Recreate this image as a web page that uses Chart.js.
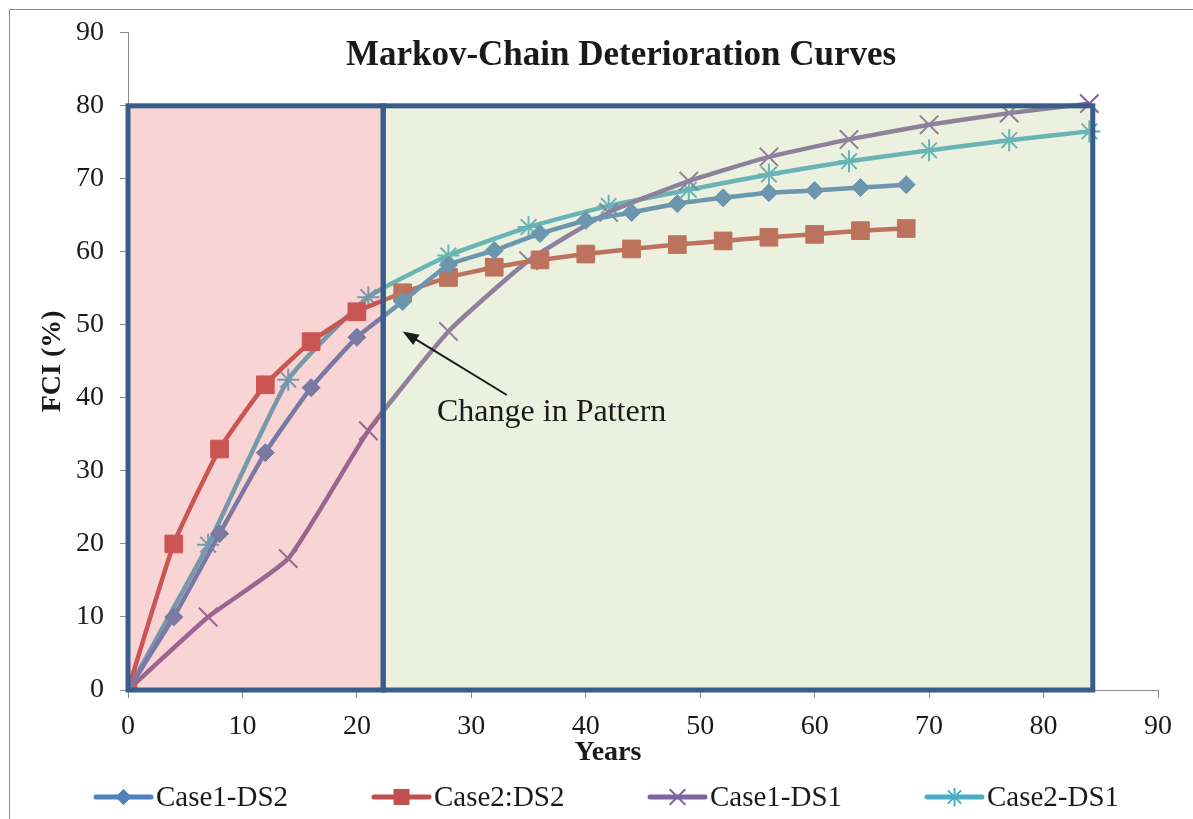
<!DOCTYPE html>
<html lang="en">
<head>
    <meta charset="UTF-8">
    <title>Markov-Chain Deterioration Curves</title>
    <script src="https://cdn.jsdelivr.net/npm/chart.js@4.4.0/dist/chart.umd.min.js"></script>
    <style>
        body { margin: 0; background: #ffffff; }
        #chart { display: block; }
    </style>
</head>
<body>
    <canvas id="chart" width="1193" height="819"></canvas>
    <script>
        // Datos
        const yearsDS2 = [0, 4, 8, 12, 16, 20, 24, 28, 32, 36, 40, 44, 48, 52, 56, 60, 64, 68];
        const yearsDS1 = [0, 7, 14, 21, 28, 35, 42, 49, 56, 63, 70, 77, 84];
        const case1DS2 = [0, 10, 21.4, 32.5, 41.4, 48.3, 53.2, 58.2, 60.2, 62.5, 64.3, 65.4, 66.6, 67.4, 68.1, 68.4, 68.8, 69.2];
        const case2DS2 = [0, 20, 33, 41.8, 47.7, 51.8, 54.4, 56.5, 57.9, 58.9, 59.7, 60.4, 61, 61.5, 62, 62.4, 62.9, 63.2];
        const case1DS1 = [0, 10, 18, 35.5, 49.1, 58.8, 65.4, 69.7, 73, 75.4, 77.4, 79, 80.3];
        const case2DS1 = [0, 19.9, 42.5, 53.8, 59.5, 63.4, 66.3, 68.5, 70.6, 72.4, 73.9, 75.3, 76.5];
        const seriesNames = ['Case1-DS2', 'Case2:DS2', 'Case1-DS1', 'Case2-DS1'];
        const xTicks = [0, 10, 20, 30, 40, 50, 60, 70, 80, 90];
        const yTicks = [0, 10, 20, 30, 40, 50, 60, 70, 80, 90];

        const SERIF = "'Liberation Serif', 'Times New Roman', serif";
        const colors = ['#4f81bd', '#c0504d', '#8064a2', '#4bacc6'];
        const styles = ['rectRot', 'rect', 'crossRot', 'star'];
        const radii = [9, 12.5, 13, 11];

        // zonas sombreadas (unidades de datos)
        const zonaRosa = { x0: 0, x1: 22.3, y0: 0, y1: 80 };
        const zonaVerde = { x0: 22.3, x1: 84.3, y0: 0, y1: 80 };
        // anotacion
        const flechaDesde = { x: 33.1, y: 40.4 };
        const flechaHasta = { x: 24.0, y: 49.1 };
        const notaPos = { x: 27.0, y: 36.9 };

        function toPoints(xs, ys) {
            return xs.map((x, i) => ({ x: x, y: ys[i] }));
        }

        function makeDataset(i, xs, ys) {
            return {
                label: seriesNames[i],
                data: toPoints(xs, ys),
                borderColor: colors[i],
                backgroundColor: colors[i],
                borderWidth: 4.5,
                tension: 0.15,
                pointStyle: styles[i],
                pointRadius: radii[i],
                pointBackgroundColor: colors[i],
                pointBorderColor: colors[i],
                pointBorderWidth: (i >= 2) ? 2 : 1
            };
        }

        // Zonas, flecha, titulo, leyenda
        const extras = {
            id: 'extras',
            beforeDraw(chart) {
                const c = chart.ctx;
                c.save();
                c.strokeStyle = '#8c8c8c';
                c.lineWidth = 1;
                c.strokeRect(9.5, 9.5, 1250, 900);
                c.restore();
            },
            afterDatasetsDraw(chart) {
                const c = chart.ctx;
                const xs = chart.scales.x, ys = chart.scales.y;
                const zona = (z, fill) => {
                    const l = xs.getPixelForValue(z.x0), r = xs.getPixelForValue(z.x1);
                    const t = ys.getPixelForValue(z.y1), b = ys.getPixelForValue(z.y0);
                    c.fillStyle = fill;
                    c.fillRect(l, t, r - l, b - t);
                    return [l, t, r - l, b - t];
                };
                c.save();
                const r1 = zona(zonaRosa, 'rgba(230, 100, 100, 0.28)');
                const r2 = zona(zonaVerde, 'rgba(184, 205, 137, 0.28)');
                c.strokeStyle = '#385d8a';
                c.lineWidth = 5;
                c.strokeRect(...r2);
                c.strokeRect(...r1);

                // flecha
                const x1 = xs.getPixelForValue(flechaDesde.x), y1 = ys.getPixelForValue(flechaDesde.y);
                const x2 = xs.getPixelForValue(flechaHasta.x), y2 = ys.getPixelForValue(flechaHasta.y);
                const ang = Math.atan2(y2 - y1, x2 - x1);
                c.strokeStyle = '#1a1a1a';
                c.fillStyle = '#1a1a1a';
                c.lineWidth = 2;
                c.beginPath();
                c.moveTo(x1, y1);
                c.lineTo(x2 - 12 * Math.cos(ang), y2 - 12 * Math.sin(ang));
                c.stroke();
                c.beginPath();
                c.moveTo(x2, y2);
                c.lineTo(x2 - 16 * Math.cos(ang) + 6 * Math.sin(ang), y2 - 16 * Math.sin(ang) - 6 * Math.cos(ang));
                c.lineTo(x2 - 16 * Math.cos(ang) - 6 * Math.sin(ang), y2 - 16 * Math.sin(ang) + 6 * Math.cos(ang));
                c.closePath();
                c.fill();

                c.font = '32px ' + SERIF;
                c.textAlign = 'left';
                c.textBaseline = 'alphabetic';
                c.fillText('Change in Pattern', xs.getPixelForValue(notaPos.x), ys.getPixelForValue(notaPos.y));
                c.restore();
            },
            afterDraw(chart) {
                const c = chart.ctx;
                c.save();
                c.fillStyle = '#1a1a1a';
                c.textAlign = 'center';
                c.textBaseline = 'alphabetic';
                c.font = 'bold 35px ' + SERIF;
                c.fillText('Markov-Chain Deterioration Curves', 621, 65);
                c.textBaseline = 'middle';
                c.font = 'bold 28px ' + SERIF;
                c.fillText('Years', 608, 753);

                // leyenda
                const legendX = [96, 374, 650, 927];
                const ly = 797;
                c.font = '29px ' + SERIF;
                c.textAlign = 'left';
                seriesNames.forEach((name, i) => {
                    const x0 = legendX[i];
                    c.strokeStyle = colors[i];
                    c.fillStyle = colors[i];
                    c.lineWidth = 5;
                    c.lineCap = 'round';
                    c.beginPath();
                    c.moveTo(x0, ly);
                    c.lineTo(x0 + 55, ly);
                    c.stroke();
                    c.lineCap = 'butt';
                    c.lineWidth = (i >= 2) ? 2 : 1;
                    Chart.helpers.drawPoint(c, {
                        pointStyle: styles[i],
                        radius: radii[i] * 0.85,
                        borderWidth: (i >= 2) ? 2 : 1,
                        rotation: 0
                    }, x0 + 27.5, ly);
                    c.fillStyle = '#1a1a1a';
                    c.fillText(name, x0 + 60, ly + 1);
                });
                c.restore();
            }
        };

        const ctx = document.getElementById('chart').getContext('2d');
        const grafico = new Chart(ctx, {
            type: 'line',
            data: {
                datasets: [
                    makeDataset(0, yearsDS2, case1DS2),
                    makeDataset(1, yearsDS2, case2DS2),
                    makeDataset(2, yearsDS1, case1DS1),
                    makeDataset(3, yearsDS1, case2DS1)
                ]
            },
            plugins: [extras],
            options: {
                responsive: false,
                animation: false,
                devicePixelRatio: 1,
                layout: { padding: { top: 26, right: 35, left: 0, bottom: 0 } },
                plugins: {
                    legend: { display: false },
                    tooltip: { enabled: false }
                },
                scales: {
                    x: {
                        type: 'linear',
                        min: 0,
                        max: 90,
                        afterFit: (s) => { s.height = 129; },
                        afterBuildTicks: (s) => { s.ticks = xTicks.map(v => ({ value: v })); },
                        grid: { drawOnChartArea: false, tickLength: 8, color: '#8c8c8c' },
                        border: { color: '#8c8c8c', width: 1 },
                        ticks: { color: '#1a1a1a', padding: 12, font: { family: SERIF, size: 28 } }
                    },
                    y: {
                        min: 0,
                        max: 90,
                        afterFit: (s) => { s.width = 128; },
                        afterBuildTicks: (s) => { s.ticks = yTicks.map(v => ({ value: v })); },
                        grid: { drawOnChartArea: false, tickLength: 8, color: '#8c8c8c' },
                        border: { color: '#8c8c8c', width: 1 },
                        ticks: { color: '#1a1a1a', padding: 16, font: { family: SERIF, size: 28 } },
                        title: {
                            display: true,
                            text: 'FCI (%)',
                            color: '#1a1a1a',
                            padding: { top: 36, bottom: 0 },
                            font: { family: SERIF, size: 28, weight: 'bold' }
                        }
                    }
                }
            }
        });
    </script>
</body>
</html>
